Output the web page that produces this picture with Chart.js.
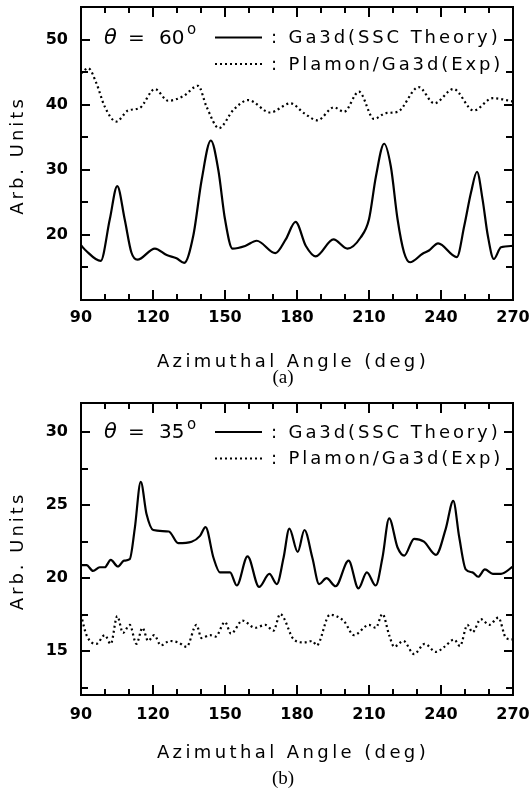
<!DOCTYPE html>
<html lang="en">
<head>
  <meta charset="UTF-8">
  <title>Azimuthal scans</title>
  <script src="https://cdn.jsdelivr.net/npm/chart.js"></script>
  <style>
    body { margin: 0; background: #fff; }
    .panel { position: absolute; left: 0; }
  </style>
</head>
<body>
  <canvas id="chartA" class="panel" style="top:0" width="529" height="390"></canvas>
  <canvas id="chartB" class="panel" style="top:390px" width="529" height="401"></canvas>

  <script>
    // x axis (azimuthal angle, deg)
    const xTicks = [90, 120, 150, 180, 210, 240, 270];
    const xMinor = [100, 110, 130, 140, 160, 170, 190, 200, 220, 230, 250, 260];

    // panel (a), theta = 60
    const yTicksA = [20, 30, 40, 50];
    const yMinorA = [15, 25, 35, 45];
    const angA_ssc = [90, 92.0, 98.2, 102.0, 105.1, 108.2, 111.0, 113.5, 120.8, 125.7, 129.8, 133.0, 136.8, 140.3, 144.1, 147.2, 150.0, 153.1, 158.4, 163.2, 171.0, 175.3, 179.4, 183.7, 187.8, 195.2, 201.0, 206.5, 210.0, 212.9, 216.3, 219.1, 221.9, 224.6, 227.1, 232.3, 235.0, 238.8, 246.6, 249.7, 252.5, 255.0, 257.3, 259.5, 262.0, 265.0, 270];
    const valA_ssc = [18.4, 17.6, 16.0, 22.4, 27.5, 22.4, 17.3, 16.2, 17.9, 16.9, 16.4, 15.7, 19.9, 28.5, 34.5, 30.0, 22.4, 17.9, 18.3, 19.1, 17.2, 19.3, 22.0, 18.3, 16.7, 19.3, 17.9, 19.6, 22.4, 29.0, 34.0, 30.5, 22.4, 17.3, 15.8, 17.1, 17.6, 18.7, 16.6, 21.4, 26.5, 29.7, 25.5, 19.9, 16.3, 18.1, 18.3];
    const angA_exp = [90, 93.0, 96.4, 99.9, 104.7, 109.6, 114.5, 120.8, 126.3, 132.6, 138.8, 142.3, 147.5, 153.5, 159.7, 168.8, 177.3, 182.9, 188.5, 195.4, 199.6, 205.8, 212.1, 217.0, 221.9, 230.7, 237.2, 245.2, 253.6, 261.6, 270];
    const valA_exp = [44.8, 45.6, 43.3, 39.7, 37.4, 39.1, 39.5, 42.4, 40.6, 41.3, 42.9, 39.7, 36.4, 39.2, 40.7, 38.8, 40.2, 38.7, 37.6, 39.6, 38.9, 42.0, 37.8, 38.7, 38.9, 42.7, 40.2, 42.4, 39.1, 41.0, 40.5];

    // panel (b), theta = 35
    const yTicksB = [15, 20, 25, 30];
    const yMinorB = [12.5, 17.5, 22.5, 27.5];
    const angB_ssc = [90, 92.3, 95.0, 97.8, 99.9, 102.4, 105.4, 107.9, 110.3, 112.4, 114.9, 117.3, 120.1, 126.6, 130.5, 136.1, 139.6, 141.9, 145.2, 147.9, 152.1, 154.9, 159.4, 164.2, 168.5, 171.6, 174.4, 176.8, 180.3, 183.1, 186.4, 189.2, 192.3, 196.1, 201.5, 205.6, 209.1, 212.8, 215.6, 218.4, 221.9, 224.7, 228.8, 232.9, 237.9, 242.0, 245.1, 247.6, 250.3, 253.1, 255.5, 258.3, 261.6, 265.0, 270];
    const valB_ssc = [20.9, 20.9, 20.5, 20.75, 20.75, 21.25, 20.8, 21.2, 21.3, 23.4, 26.6, 24.4, 23.3, 23.2, 22.4, 22.5, 22.9, 23.5, 21.4, 20.4, 20.4, 19.5, 21.5, 19.4, 20.3, 19.6, 21.4, 23.4, 21.8, 23.3, 21.4, 19.6, 20.0, 19.45, 21.2, 19.3, 20.4, 19.5, 21.4, 24.1, 22.1, 21.55, 22.7, 22.5, 21.6, 23.4, 25.3, 22.8, 20.6, 20.4, 20.1, 20.6, 20.3, 20.3, 20.8];
    const angB_exp = [90, 92.3, 96.4, 99.9, 102.4, 105.1, 107.5, 110.3, 113.1, 115.6, 118.0, 120.5, 123.3, 127.0, 130.5, 134.0, 138.1, 140.2, 143.8, 146.1, 150.0, 152.5, 157.3, 162.5, 166.8, 170.2, 173.0, 178.7, 182.9, 186.4, 188.2, 193.7, 199.6, 203.7, 210.0, 212.8, 215.6, 218.4, 220.5, 224.3, 228.8, 233.2, 237.9, 241.4, 245.5, 247.9, 251.0, 253.1, 256.6, 260.1, 263.9, 267.1, 270];
    const valB_exp = [17.5, 16.1, 15.5, 16.1, 15.5, 17.4, 16.25, 16.8, 15.5, 16.6, 15.7, 16.1, 15.4, 15.7, 15.6, 15.3, 16.8, 15.9, 16.1, 16.0, 17.0, 16.2, 17.1, 16.6, 16.8, 16.4, 17.55, 15.8, 15.6, 15.7, 15.4, 17.5, 17.05, 16.1, 16.8, 16.6, 17.55, 16.1, 15.3, 15.7, 14.8, 15.5, 14.95, 15.3, 15.8, 15.35, 16.8, 16.3, 17.2, 16.8, 17.3, 15.9, 15.8];

    const pts = (xs, ys) => xs.map((v, i) => ({ x: v, y: ys[i] }));

    function spacedText(ctx, text, x, y, font, spacing, align) {
      ctx.font = font;
      ctx.letterSpacing = spacing + 'px';
      ctx.textAlign = align || 'left';
      ctx.fillText(text, x, y);
      ctx.letterSpacing = '0px';
    }

    // frame, inward ticks on all four sides, titles and legend
    const decor = {
      id: 'decor',
      beforeDraw(chart) { chart.ctx.letterSpacing = '0px'; },
      afterDraw(chart, args, o) {
        const ctx = chart.ctx;
        const a = chart.chartArea;
        const x = chart.scales.x, y = chart.scales.y;
        const L = a.left, R = a.right, T = a.top, B = a.bottom;
        ctx.save();
        ctx.setLineDash([]);
        ctx.globalAlpha = 1;
        ctx.fillStyle = '#000';
        ctx.strokeStyle = '#000';
        ctx.lineWidth = 2;
        ctx.beginPath();
        ctx.moveTo(L, T); ctx.lineTo(R, T); ctx.lineTo(R, B); ctx.lineTo(L, B); ctx.closePath();
        ctx.stroke();

        // tick marks as small filled bars pointing into the plot
        const xs = xTicks.concat(xMinor);
        for (let i = 0; i < xs.length; i++) {
          const px = Math.round(x.getPixelForValue(xs[i]));
          const len = xTicks.indexOf(xs[i]) >= 0 ? 10 : 6;
          ctx.fillRect(px - 1, B - len, 2, len);
          ctx.fillRect(px - 1, T, 2, len);
        }
        const yMaj = Array.from(o.yMajor), ys = yMaj.concat(Array.from(o.yMinor));
        for (let i = 0; i < ys.length; i++) {
          const py = Math.round(y.getPixelForValue(ys[i]));
          const len = yMaj.indexOf(ys[i]) >= 0 ? 9 : 7;
          ctx.fillRect(L, py - 1, len, 2);
          ctx.fillRect(R - len, py - 1, len, 2);
        }

        ctx.textBaseline = 'middle';
        spacedText(ctx, 'Azimuthal Angle (deg)', 293, o.xTitleY, '18px "DejaVu Sans"', 3.4, 'center');
        spacedText(ctx, o.caption, 283, o.captionY, '19px "Liberation Serif"', 0, 'center');

        ctx.save();
        ctx.translate(18, (T + B) / 2 + 2);
        ctx.rotate(-Math.PI / 2);
        spacedText(ctx, 'Arb. Units', 0, 0, '18px "DejaVu Sans"', 3, 'center');
        ctx.restore();

        // legend
        const ly1 = o.legendY, ly2 = ly1 + 26.5;
        spacedText(ctx, '\u03b8', 104, ly1 + 1, 'italic 21px "DejaVu Sans"', 0, 'left');
        spacedText(ctx, '=', 128, ly1 + 1, '20px "DejaVu Sans"', 0, 'left');
        spacedText(ctx, o.theta, 159, ly1 + 1, '20px "DejaVu Sans"', 0, 'left');
        spacedText(ctx, 'o', 187, ly1 - 7, '15px "DejaVu Sans"', 0, 'left');
        ctx.lineWidth = 2;
        ctx.beginPath();
        ctx.moveTo(215, ly1); ctx.lineTo(262, ly1);
        ctx.stroke();
        ctx.setLineDash([2, 3]);
        ctx.beginPath();
        ctx.moveTo(215, ly2); ctx.lineTo(262, ly2);
        ctx.stroke();
        ctx.setLineDash([]);
        spacedText(ctx, ': Ga3d(SSC Theory)', 271, ly1 + 1, '18px "DejaVu Sans"', 2.9, 'left');
        spacedText(ctx, ': Plamon/Ga3d(Exp)', 271, ly2 + 1, '18px "DejaVu Sans"', 2.9, 'left');
        ctx.restore();
      }
    };

    function makeChart(id, cfg) {
      const chart = new Chart(document.getElementById(id), {
        type: 'line',
        data: {
          datasets: [
            {
              data: pts(cfg.angSsc, cfg.valSsc),
              borderColor: '#000', borderWidth: 2.2,
              pointRadius: 0, cubicInterpolationMode: 'monotone'
            },
            {
              data: pts(cfg.angExp, cfg.valExp),
              borderColor: '#000', borderWidth: 2.2, borderDash: [2, 3],
              pointRadius: 0, cubicInterpolationMode: 'monotone'
            }
          ]
        },
        options: {
          responsive: false,
          animation: false,
          layout: { padding: { top: cfg.area.top, right: 529 - cfg.area.right, left: 0, bottom: 0 } },
          plugins: {
            legend: { display: false },
            tooltip: { enabled: false },
            decor: cfg.decor
          },
          scales: {
            x: {
              type: 'linear', min: 90, max: 270,
              afterBuildTicks: s => { s.ticks = xTicks.map(v => ({ value: v })); },
              afterFit: s => {
                s.height = cfg.canvasH - cfg.area.bottom;
                s.paddingLeft = 0; s.paddingRight = 0;
              },
              grid: { display: false, drawTicks: false },
              border: { display: false },
              ticks: {
                color: '#000', padding: cfg.xPad, maxRotation: 0,
                font: { family: 'DejaVu Sans', size: 16, weight: 'bold' }
              }
            },
            y: {
              min: cfg.yMin, max: cfg.yMax,
              afterBuildTicks: s => { s.ticks = cfg.yTicks.map(v => ({ value: v })); },
              afterFit: s => {
                s.width = cfg.area.left;
                s.paddingTop = 0; s.paddingBottom = 0;
              },
              grid: { display: false, drawTicks: false },
              border: { display: false },
              ticks: {
                color: '#000', padding: 13,
                font: { family: 'DejaVu Sans', size: 16, weight: 'bold' }
              }
            }
          }
        },
        plugins: [decor]
      });
      // nudge the layout padding so the plot box lands where the figure has it
      const a = chart.chartArea, p = chart.options.layout.padding;
      const dt = cfg.area.top - a.top, dr = a.right - cfg.area.right;
      if (Math.abs(dt) > 0.5 || Math.abs(dr) > 0.5) {
        p.top += dt; p.right += dr;
        chart.update();
      }
      return chart;
    }

    makeChart('chartA', {
      angSsc: angA_ssc, valSsc: valA_ssc, angExp: angA_exp, valExp: valA_exp,
      yMin: 10, yMax: 55, yTicks: yTicksA, xPad: 8, canvasH: 390,
      area: { left: 81, right: 513, top: 7, bottom: 300 },
      decor: { yMajor: yTicksA, yMinor: yMinorA, theta: '60', caption: '(a)',
               xTitleY: 362, captionY: 378, legendY: 37.5 }
    });

    makeChart('chartB', {
      angSsc: angB_ssc, valSsc: valB_ssc, angExp: angB_exp, valExp: valB_exp,
      yMin: 12, yMax: 32, yTicks: yTicksB, xPad: 10, canvasH: 401,
      area: { left: 81, right: 513, top: 13, bottom: 305 },
      decor: { yMajor: yTicksB, yMinor: yMinorB, theta: '35', caption: '(b)',
               xTitleY: 363, captionY: 389, legendY: 42 }
    });
  </script>
</body>
</html>
